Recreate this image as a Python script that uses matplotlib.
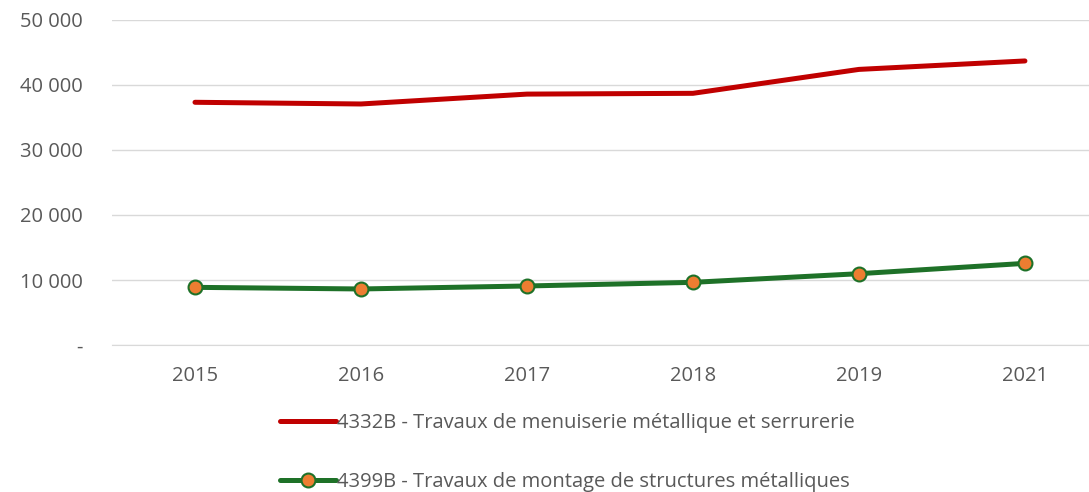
import matplotlib.pyplot as plt
from matplotlib.ticker import FuncFormatter

years = ['2015', '2016', '2017', '2018', '2019', '2021']
menuiserie = [37340, 37080, 38600, 38720, 42400, 43700]
montage = [8870, 8620, 9080, 9640, 10970, 12560]
label_menuiserie = '4332B - Travaux de menuiserie métallique et serrurerie'
label_montage = '4399B - Travaux de montage de structures métalliques'

plt.rcParams['font.family'] = ['Open Sans', 'DejaVu Sans']
txt = '#595959'

fig = plt.figure(figsize=(10.89, 4.92), dpi=100)
ax = fig.add_axes([112 / 1089, 1 - 345 / 492, 977 / 1089, 325 / 492])

x = list(range(len(years)))
l1, = ax.plot(x, menuiserie, color='#C00000', lw=3.6, solid_capstyle='round',
              solid_joinstyle='round', label=label_menuiserie)
l2, = ax.plot(x, montage, color='#1E7128', lw=3.6, marker='o', markersize=10,
              markerfacecolor='#ED7D31', markeredgecolor='#1E7128', markeredgewidth=1.5,
              solid_capstyle='round', label=label_montage)

ax.set_xlim(-0.5, 5.386)
ax.set_ylim(0, 50000)
ax.set_yticks(range(0, 50001, 10000))
ax.yaxis.set_major_formatter(FuncFormatter(
    lambda v, p: '-' if v == 0 else f'{int(v):,}'.replace(',', ' ')))
ax.set_xticks(x)
ax.set_xticklabels(years)
ax.grid(axis='y', color='#D9D9D9', lw=1)
ax.set_axisbelow(True)
for s in ['top', 'right', 'left']:
    ax.spines[s].set_visible(False)
ax.spines['bottom'].set_color('#D9D9D9')
ax.tick_params(axis='y', length=0, pad=21, labelsize=14.5, labelcolor=txt)
ax.tick_params(axis='x', length=0, pad=15, labelsize=14.5, labelcolor=txt)

leg = fig.legend(handles=[l1, l2], loc='upper left', bbox_to_anchor=(270 / 1089, 1 - 403 / 492),
                 frameon=False, fontsize=14.5, labelcolor=txt, handlelength=2.8,
                 handletextpad=0.05, labelspacing=1.95, borderpad=0)

fig.savefig('out.png', dpi=100)
